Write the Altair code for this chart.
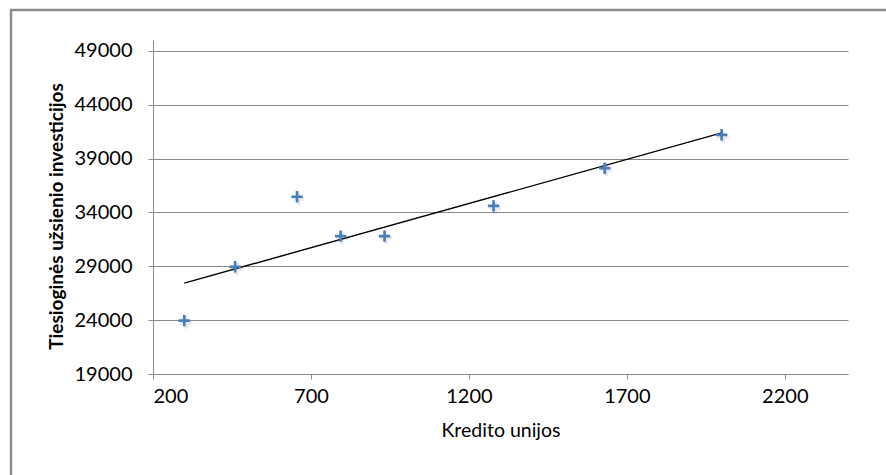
import altair as alt
import pandas as pd

# Kredito unijos (x) vs. tiesioginės užsienio investicijos (y)
kredito_unijos = [299, 460, 656, 794, 933, 1278, 1630, 2000]
investicijos = [23950, 28950, 35450, 31800, 31800, 34600, 38100, 41200]

x_ticks = [200, 700, 1200, 1700, 2200]
y_ticks = [19000, 24000, 29000, 34000, 39000, 44000, 49000]

df = pd.DataFrame({"x": kredito_unijos, "y": investicijos})

FONT = "Lato"
GRID = "#8a8a8a"
BLUE = "#4a7ebb"

x_enc = alt.X(
    "x:Q",
    scale=alt.Scale(domain=[200, 2400], nice=False, zero=False),
    axis=alt.Axis(
        title="Kredito unijos",
        values=x_ticks,
        format="d",
        grid=False,
        domainColor=GRID,
        tickColor=GRID,
        tickSize=5,
        labelPadding=7,
        titlePadding=15,
        labelFont=FONT,
        labelFontSize=20,
        labelColor="#000000",
        titleFont=FONT,
        titleFontSize=19.5,
        titleFontWeight="normal",
        titleColor="#000000",
    ),
)
y_enc = alt.Y(
    "y:Q",
    scale=alt.Scale(domain=[19000, 50000], nice=False, zero=False),
    axis=alt.Axis(
        title="Tiesioginės užsienio investicijos",
        values=y_ticks,
        format="d",
        grid=True,
        gridColor=GRID,
        gridWidth=1,
        domainColor=GRID,
        tickColor=GRID,
        tickSize=5,
        labelPadding=16,
        titlePadding=8,
        titleY=176,
        labelFont=FONT,
        labelFontSize=20,
        labelColor="#000000",
        titleFont=FONT,
        titleFontSize=19,
        titleFontWeight="bold",
        titleColor="#000000",
    ),
)

# outer frame of the chart area
frame = alt.Chart(pd.DataFrame({"a": [0]})).mark_rect(
    fill=None, stroke="#8c8c8c", strokeWidth=2.5
).encode(
    x=alt.value(-142), x2=alt.value(760),
    y=alt.value(-30), y2=alt.value(460),
)

shadow = alt.Chart(df).mark_point(
    shape="M-1,0H1M0,-1V1", size=140, filled=False,
    stroke="#000000", strokeWidth=4, opacity=0.08,
).encode(
    x=x_enc, y=y_enc,
    xOffset=alt.value(1.5), yOffset=alt.value(2),
)

points = alt.Chart(df).mark_point(
    shape="M-1,0H1M0,-1V1", size=130, filled=False,
    stroke=BLUE, strokeWidth=2.7, opacity=1,
).encode(x=x_enc, y=y_enc)

trend = alt.Chart(df).transform_regression("x", "y").mark_line(
    color="#000000", strokeWidth=1.4
).encode(x=x_enc, y=y_enc)

chart = alt.layer(frame, shadow, trend, points).properties(
    width=695,
    height=334,
    autosize=alt.AutoSizeParams(type="none"),
    padding={"left": 153, "top": 40, "right": 38, "bottom": 101},
    background="#ffffff",
).configure_view(stroke=None)

chart.save("out.html", embed_options={"renderer": "svg", "actions": False})
